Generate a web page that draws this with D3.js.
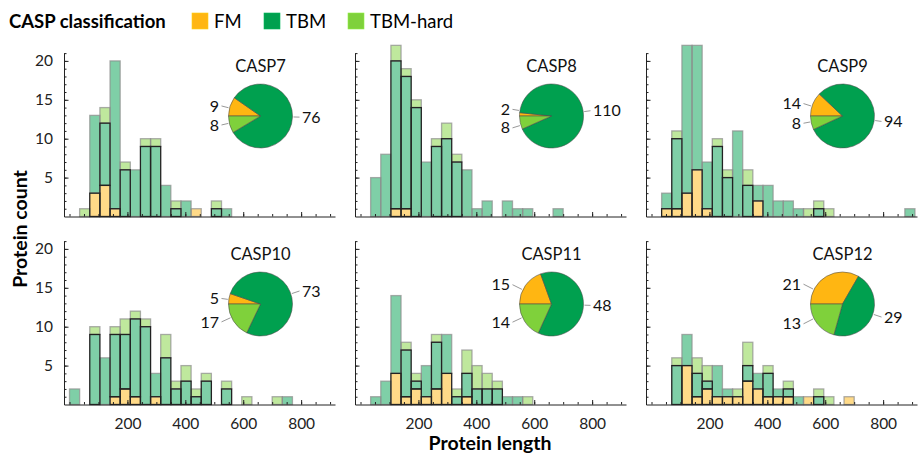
<!DOCTYPE html>
<html lang="en">
<head>
<meta charset="UTF-8">
<script src="https://cdn.jsdelivr.net/npm/d3@7"></script>
<title>CASP protein lengths</title>
<style>
  body { margin: 0; background: #fff; }
  text { font-family: Lato, "Open Sans", sans-serif; }
</style>
</head>
<body>
<script>
    // one panel per CASP round
    var casps = ["CASP7", "CASP8", "CASP9", "CASP10", "CASP11", "CASP12"];
    var classes = ["FM", "TBM", "TBM-hard"];
    var binWidth = 35;   // protein length covered by one bin, bin i = [i*35, (i+1)*35)

    // counts per bin, one row per CASP round
    var fmCounts = [
        [0, 0, 3, 4, 1, 0, 0, 0, 0, 0, 0, 0, 1],
        [0, 0, 0, 1, 1],
        [0, 1, 1, 3, 6, 1, 0, 0, 0, 0, 2],
        [0, 0, 0, 0, 1, 2, 1, 0, 1],
        [0, 0, 0, 4, 1, 2, 1, 2, 4, 0, 1],
        [0, 0, 0, 5, 1, 2, 1, 1, 1, 3, 2, 1, 1, 1, 0, 1, 0, 0, 0, 1]
    ];
    var tbmCounts = [
        [0, 0, 10, 8, 19, 6, 6, 9, 9, 4, 1, 2, 0, 0, 1, 1],
        [0, 5, 8, 19, 17, 14, 7, 9, 10, 7, 6, 1, 2, 0, 2, 1, 1, 0, 0, 1],
        [0, 2, 9, 19, 16, 6, 9, 5, 11, 4, 2, 4, 2, 2, 1, 0, 1, 0, 0, 0, 0, 0, 0, 0, 0, 1],
        [2, 0, 9, 6, 8, 7, 10, 10, 3, 6, 2, 3, 1, 3, 0, 2, 0, 0, 0, 0, 0, 1],
        [0, 1, 3, 10, 6, 1, 4, 6, 5, 1, 3, 2, 2, 2, 1, 1],
        [0, 0, 5, 4, 3, 1, 4, 1, 0, 2, 2, 3, 1, 1, 1, 0, 1]
    ];
    var hardCounts = [
        [0, 1, 0, 2, 0, 1, 0, 1, 1, 0, 1, 0, 0, 0, 1],
        [0, 0, 0, 2, 1, 1, 0, 1, 2, 1],
        [0, 0, 1, 0, 0, 0, 1, 1, 0, 2, 0, 0, 0, 0, 0, 1, 1, 1],
        [0, 0, 1, 0, 1, 2, 1, 1, 0, 3, 1, 2, 1, 1, 0, 1, 0, 1, 0, 0, 1],
        [0, 0, 0, 0, 1, 1, 0, 1, 0, 1, 3, 3, 2, 1, 0, 0, 1],
        [0, 0, 1, 0, 2, 2, 0, 0, 1, 3, 0, 1, 0, 1, 0, 0, 1, 1]
    ];
    var xTicks = [200, 400, 600, 800];
    var yTicks = [5, 10, 15, 20];

    var colors = ["#ffb612", "#00a04f", "#7fd13b"];

    // layout
    var colX = [64, 355, 646];
    var rowBase = [216.5, 404.5];
    var axisW = 271;
    var pxY = 7.78;
    var pieR = 32;

    var svg = d3.select("body").append("svg")
        .attr("width", 919)
        .attr("height", 453);

    var pie = d3.pie().sort(null).value(d => d)
        .startAngle(-Math.PI / 2).endAngle(1.5 * Math.PI);
    var arc = d3.arc().innerRadius(0).outerRadius(pieR);

    casps.forEach(function (name, p) {
        var col = p % 3, row = Math.floor(p / 3);
        var x0 = colX[col], base = rowBase[row];

        var x = d3.scaleLinear().domain([-19, 917]).range([x0, x0 + axisW]);
        var y = d3.scaleLinear().domain([0, 21]).range([base, base - 21 * pxY]);

        var series = [fmCounts[p], tbmCounts[p], hardCounts[p]];
        var nBins = d3.max(series, s => s.length);

        // stacked segments, FM at the bottom
        var segs = [];
        for (var i = 0; i < nBins; i++) {
            var acc = 0, last = -1;
            series.forEach((s, k) => { if (s[i]) last = k; });
            series.forEach((s, k) => {
                var v = s[i] || 0;
                if (v > 0) segs.push({i: i, k: k, y0: acc, y1: acc + v, top: k === last});
                acc += v;
            });
        }

        var g = svg.append("g");
        var rect = sel => sel
            .attr("x", d => x(d.i * binWidth))
            .attr("y", d => y(d.y1))
            .attr("width", d => x((d.i + 1) * binWidth) - x(d.i * binWidth))
            .attr("height", d => y(d.y0) - y(d.y1));

        g.append("g").selectAll("rect")
            .data(segs)
            .enter()
            .append("rect")
            .call(rect)
            .attr("fill", d => colors[d.k])
            .attr("fill-opacity", 0.5);

        g.append("g").selectAll("rect")
            .data(segs.filter(d => d.top))
            .enter()
            .append("rect")
            .call(rect)
            .attr("fill", "none")
            .attr("stroke", "#8c8c8c")
            .attr("stroke-opacity", 0.7)
            .attr("stroke-width", 1.3);

        g.append("g").selectAll("rect")
            .data(segs.filter(d => !d.top))
            .enter()
            .append("rect")
            .call(rect)
            .attr("fill", "none")
            .attr("stroke", "#222")
            .attr("stroke-width", 1.3);

        // x axis, ticks pointing in
        g.append("g")
            .attr("transform", "translate(0," + base + ")")
            .call(d3.axisBottom(x).tickValues(d3.range(0, 901, 50)).tickSize(-2.5).tickSizeOuter(0).tickFormat(""))
            .attr("color", "#222");
        var xa = g.append("g")
            .attr("transform", "translate(0," + base + ")")
            .call(d3.axisBottom(x).tickValues(xTicks).tickSize(-4.5).tickSizeOuter(0).tickPadding(13)
                .tickFormat(row === 1 ? d3.format("d") : ""))
            .attr("color", "#222")
            .attr("font-family", null)
            .attr("font-size", 15.5);
        xa.select(".domain").remove();

        // y axis
        g.append("g")
            .attr("transform", "translate(" + x0 + ",0)")
            .call(d3.axisLeft(y).tickValues(d3.range(1, 22)).tickSize(-2.5).tickSizeOuter(0).tickFormat(""))
            .attr("color", "#222");
        var ya = g.append("g")
            .attr("transform", "translate(" + x0 + ",0)")
            .call(d3.axisLeft(y).tickValues(yTicks).tickSize(-4.5).tickSizeOuter(0).tickPadding(11)
                .tickFormat(col === 0 ? d3.format("d") : ""))
            .attr("color", "#222")
            .attr("font-family", null)
            .attr("font-size", 15.5);
        ya.select(".domain").remove();

        // pie inset with class totals
        var totals = series.map(s => d3.sum(s));
        var cx = x0 + 196.5, cy = base - 100.5;
        var pg = g.append("g").attr("transform", "translate(" + cx + "," + cy + ")");
        var arcs = pie(totals);
        pg.selectAll("path")
            .data(arcs)
            .enter()
            .append("path")
            .attr("d", arc)
            .attr("fill", (d, k) => colors[k])
            .attr("stroke", "#4a4a4a")
            .attr("stroke-opacity", 0.8)
            .attr("stroke-width", 0.7);

        g.append("text")
            .attr("x", cx)
            .attr("y", cy - pieR - 12)
            .attr("text-anchor", "middle")
            .attr("font-size", 16.5)
            .attr("fill", "#111")
            .text(name);

        var labs = arcs.map(a => {
            var mid = (a.startAngle + a.endAngle) / 2;
            var e = Math.max(-0.62, Math.min(0.62, -Math.cos(mid) * 1.05));
            return {v: a.value, side: Math.sin(mid) < 0 ? -1 : 1, dy: e * pieR};
        });
        [-1, 1].forEach(side => {
            var L = labs.filter(l => l.side === side).sort((a, b) => a.dy - b.dy);
            for (var it = 0; it < 20; it++) {
                for (var j = 1; j < L.length; j++) {
                    var gap = L[j].dy - L[j - 1].dy;
                    if (gap < 18.5) { L[j].dy += (18.5 - gap) / 2; L[j - 1].dy -= (18.5 - gap) / 2; }
                }
            }
        });
        labs.forEach(l => {
            var ax = l.side * (pieR + 7), ay = l.dy;
            var len = Math.hypot(ax, ay);
            pg.append("line")
                .attr("x1", ax).attr("y1", ay)
                .attr("x2", ax / len * (pieR + 1)).attr("y2", ay / len * (pieR + 1))
                .attr("stroke", "#999")
                .attr("stroke-width", 1);
            pg.append("text")
                .attr("x", l.side * (pieR + 9.5))
                .attr("y", ay)
                .attr("dy", "0.35em")
                .attr("text-anchor", l.side < 0 ? "end" : "start")
                .attr("font-size", 16)
                .attr("fill", "#111")
                .text(l.v);
        });
    });

    // legend
    var legend = svg.append("g");
    legend.append("text")
        .attr("x", 9).attr("y", 28)
        .attr("font-size", 18.5).attr("font-weight", "bold")
        .text("CASP classification");
    var legX = [192, 264, 348];
    classes.forEach(function (c, k) {
        legend.append("rect")
            .attr("x", legX[k]).attr("y", 13)
            .attr("width", 16).attr("height", 16)
            .attr("fill", colors[k])
            .attr("stroke", d3.color(colors[k]).brighter(0.4))
            .attr("stroke-width", 0.6);
        legend.append("text")
            .attr("x", legX[k] + 22).attr("y", 28)
            .attr("font-size", 18.5)
            .text(c);
    });

    // axis titles
    svg.append("text")
        .attr("transform", "translate(27,229) rotate(-90)")
        .attr("text-anchor", "middle")
        .attr("font-size", 19.5).attr("font-weight", "bold")
        .text("Protein count");
    svg.append("text")
        .attr("x", 490).attr("y", 450)
        .attr("text-anchor", "middle")
        .attr("font-size", 19.5).attr("font-weight", "bold")
        .text("Protein length");
</script>
</body>
</html>
